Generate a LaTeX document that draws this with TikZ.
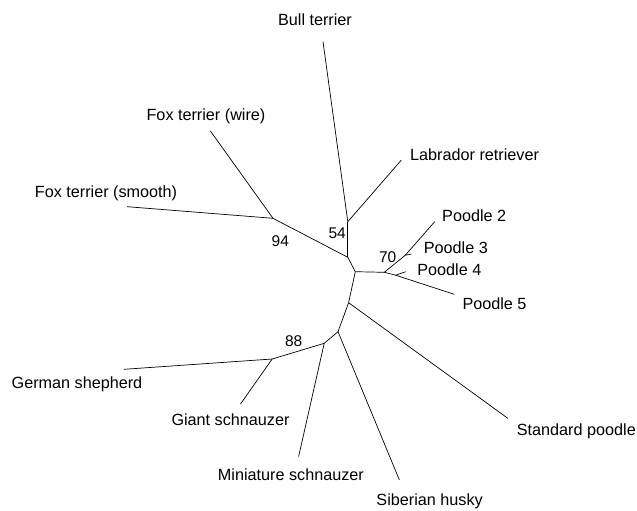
\documentclass[tikz,border=0pt]{standalone}
\usepackage{fontspec}
\setmainfont{Liberation Sans}
\begin{document}
\begin{tikzpicture}[x=1pt,y=-1pt,
  branch/.style={draw=black,line width=0.7pt},
  leaf/.style={font=\fontsize{16.2}{19}\selectfont,inner sep=0pt,anchor=mid,yshift=-2.5pt},
  leafw/.style={leaf,anchor=mid west},
  boot/.style={font=\fontsize{15.5}{18}\selectfont,inner sep=0pt,anchor=mid,yshift=-2pt}]
\useasboundingbox (0,0) rectangle (637,511);
% internal nodes
\coordinate (A) at (347.8,221.7);
\coordinate (B) at (347.8,257.3);
\coordinate (C) at (355.3,271.7);
\coordinate (D) at (273,218.3);
\coordinate (E) at (384.3,272.3);
\coordinate (G) at (405.3,255.2);
\coordinate (F) at (395.7,275.2);
\coordinate (H) at (348.6,302.7);
\coordinate (I) at (338,331.7);
\coordinate (J) at (324.2,343.3);
\coordinate (K) at (272.2,359);
% tips
\coordinate (tBull) at (323,41.7);
\coordinate (tLab) at (401.4,160);
\coordinate (tFw) at (210.4,131);
\coordinate (tFs) at (127.2,206.7);
\coordinate (tP2) at (434.7,221.7);
\coordinate (tP3) at (411.3,254.2);
\coordinate (tP4) at (405.7,271.7);
\coordinate (tP5) at (454.2,294.3);
\coordinate (tSp) at (507.8,418.3);
\coordinate (tSh) at (399.4,480);
\coordinate (tMs) at (298.6,456.7);
\coordinate (tGs) at (240.5,404);
\coordinate (tGsh) at (123.9,369.3);
% edges
\draw[branch] (A) -- (tBull);
\draw[branch] (A) -- (tLab);
\draw[branch] (B) -- (A);
\draw[branch] (C) -- (B);
\draw[branch] (B) -- (D);
\draw[branch] (D) -- (tFw);
\draw[branch] (D) -- (tFs);
\draw[branch] (C) -- (E);
\draw[branch] (E) -- (G);
\draw[branch] (G) -- (tP2);
\draw[branch] (G) -- (tP3);
\draw[branch] (E) -- (F);
\draw[branch] (F) -- (tP4);
\draw[branch] (F) -- (tP5);
\draw[branch] (C) -- (H);
\draw[branch] (H) -- (tSp);
\draw[branch] (H) -- (I);
\draw[branch] (I) -- (tSh);
\draw[branch] (I) -- (J);
\draw[branch] (J) -- (tMs);
\draw[branch] (J) -- (K);
\draw[branch] (K) -- (tGs);
\draw[branch] (K) -- (tGsh);
% labels
\node[leaf] (lBull) at (315,20) {Bull terrier};
\node[leafw] (lLab) at (410,155) {Labrador retriever};
\node[leaf] (lFw) at (206,115) {Fox terrier (wire)};
\node[leaf] (lFs) at (106,192.7) {Fox terrier (smooth)};
\node[leafw] (lP2) at (442,216.7) {Poodle 2};
\node[leafw] (lP3) at (423.7,248.3) {Poodle 3};
\node[leafw] (lP4) at (417.2,270) {Poodle 4};
\node[leafw] (lP5) at (462.3,304.3) {Poodle 5};
\node[leafw] (lSp) at (516.7,430) {Standard poodle};
\node[leaf] (lSh) at (429.6,500) {Siberian husky};
\node[leaf] (lMs) at (290.9,475) {Miniature schnauzer};
\node[leaf] (lGs) at (230.5,420.7) {Giant schnauzer};
\node[leaf] (lGsh) at (77,383.3) {German shepherd};
% bootstrap values
\node[boot] (b94) at (280.3,242.3) {94};
\node[boot] (b54) at (337.2,234.3) {54};
\node[boot] (b70) at (387.7,258) {70};
\node[boot] (b88) at (293.7,341.7) {88};
\end{tikzpicture}
\end{document}
